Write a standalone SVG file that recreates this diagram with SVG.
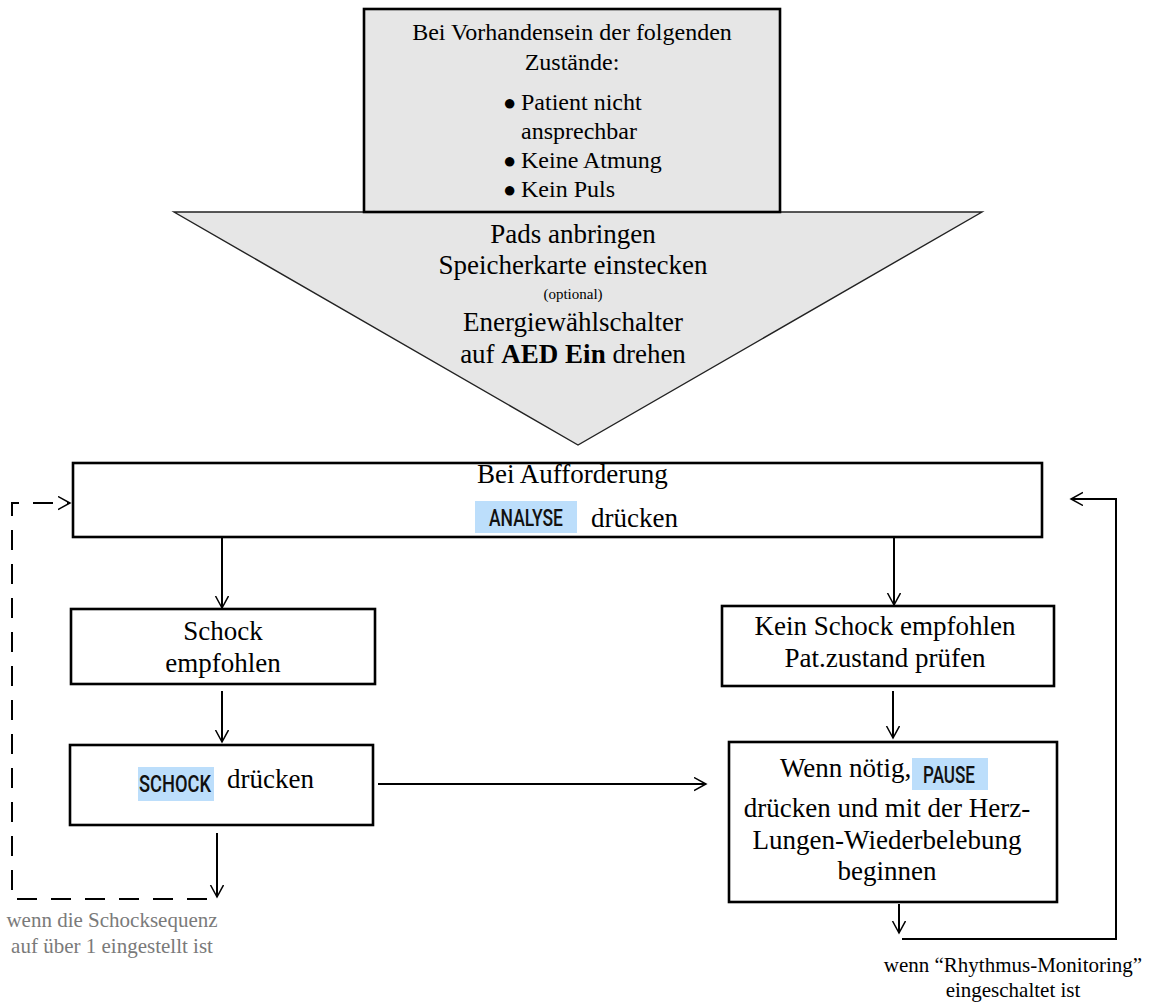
<svg xmlns="http://www.w3.org/2000/svg" width="1149" height="1008" viewBox="0 0 1149 1008">
<defs>
<marker id="arr" markerUnits="userSpaceOnUse" markerWidth="14" markerHeight="16" refX="12" refY="7" orient="auto">
<path d="M0,0.5 L12,7 L0,13.5" fill="none" stroke="#000" stroke-width="1.5"/>
</marker>
<style>
.box{fill:#fff;stroke:#000;stroke-width:2.6}
.gbox{fill:#e6e6e6;stroke:#000;stroke-width:2.6}
.tri{fill:#e6e6e6;stroke:#222;stroke-width:1.4}
.t{font-family:"Liberation Serif","Times New Roman",serif;fill:#000}
.t27{font-size:27px}
.t24{font-size:24px}
.bul{font-size:22px}
.btn{font-family:Roboto,"Liberation Sans",sans-serif;font-weight:500;font-size:23px;fill:#111}
.hl{fill:#bcdefb}
.c{fill:none;stroke:#000;stroke-width:2}
.d{fill:none;stroke:#000;stroke-width:2;stroke-dasharray:20 14}
.note{font-family:"Liberation Serif","Times New Roman",serif;font-size:21px}
</style>
</defs>
<rect width="1149" height="1008" fill="#fff"/>

<g id="start">
<polygon class="tri" points="174,212 982,212 578,445"/>
<rect class="gbox" x="364" y="9" width="416" height="203"/>
<text class="t t24" text-anchor="middle" x="572" y="40">Bei Vorhandensein der folgenden</text>
<text class="t t24" text-anchor="middle" x="572" y="70">Zustände:</text>
<text class="t t24" y="110"><tspan class="bul" x="503">●</tspan><tspan x="521">Patient nicht</tspan></text>
<text class="t t24" x="521" y="139">ansprechbar</text>
<text class="t t24" y="168"><tspan class="bul" x="503">●</tspan><tspan x="521">Keine Atmung</tspan></text>
<text class="t t24" y="197"><tspan class="bul" x="503">●</tspan><tspan x="521">Kein Puls</tspan></text>
<text class="t t27" text-anchor="middle" x="573" y="243">Pads anbringen</text>
<text class="t t27" text-anchor="middle" x="573" y="274">Speicherkarte einstecken</text>
<text class="t" font-size="15" text-anchor="middle" x="573" y="299">(optional)</text>
<text class="t t27" text-anchor="middle" x="573" y="331">Energiewählschalter</text>
<text class="t t27" text-anchor="middle" x="573" y="363">auf <tspan font-weight="bold">AED Ein</tspan> drehen</text>
</g>

<g id="analyse">
<rect class="box" x="73" y="463" width="969" height="74"/>
<text class="t t27" x="477" y="483">Bei Aufforderung</text>
<rect class="hl" x="475" y="501" width="102" height="32"/>
<text class="btn" x="489" y="526" textLength="74" lengthAdjust="spacingAndGlyphs">ANALYSE</text>
<text class="t t27" x="591" y="527">drücken</text>
</g>

<g id="schock-empfohlen">
<rect class="box" x="71" y="609" width="304" height="75"/>
<text class="t t27" text-anchor="middle" x="223" y="640">Schock</text>
<text class="t t27" text-anchor="middle" x="223" y="672">empfohlen</text>
</g>

<g id="schock-druecken">
<rect class="box" x="70" y="745" width="303" height="80"/>
<rect class="hl" x="138" y="767" width="76" height="34"/>
<text class="btn" x="139" y="792" textLength="72" lengthAdjust="spacingAndGlyphs">SCHOCK</text>
<text class="t t27" x="227" y="788">drücken</text>
</g>

<g id="kein-schock">
<rect class="box" x="722" y="606" width="332" height="80"/>
<text class="t t27" text-anchor="middle" x="885" y="635">Kein Schock empfohlen</text>
<text class="t t27" text-anchor="middle" x="885" y="667">Pat.zustand prüfen</text>
</g>

<g id="pause">
<rect class="box" x="729" y="742" width="328" height="160"/>
<text class="t t27" x="780" y="777">Wenn nötig,</text>
<rect class="hl" x="912" y="758" width="76" height="32"/>
<text class="btn" x="923" y="783" textLength="52" lengthAdjust="spacingAndGlyphs">PAUSE</text>
<text class="t t27" text-anchor="middle" x="887" y="817">drücken und mit der Herz-</text>
<text class="t t27" text-anchor="middle" x="887" y="849">Lungen-Wiederbelebung</text>
<text class="t t27" text-anchor="middle" x="887" y="880">beginnen</text>
</g>

<g id="connectors">
<line class="c" x1="222" y1="537" x2="222" y2="608" marker-end="url(#arr)"/>
<line class="c" x1="894" y1="537" x2="894" y2="605" marker-end="url(#arr)"/>
<line class="c" x1="222" y1="691" x2="222" y2="742" marker-end="url(#arr)"/>
<line class="c" x1="893" y1="691" x2="893" y2="738" marker-end="url(#arr)"/>
<line class="c" x1="378" y1="784" x2="706" y2="784" marker-end="url(#arr)"/>
<line class="c" x1="217" y1="833" x2="217" y2="897" marker-end="url(#arr)"/>
<line class="c" x1="899" y1="904" x2="899" y2="933" marker-end="url(#arr)"/>
<polyline class="c" points="902,939 1116,939 1116,499 1071,499" marker-end="url(#arr)"/>
<polyline class="d" points="207,899 12,899 12,503 70,503" marker-end="url(#arr)"/>
</g>

<g id="labels">
<text class="note" fill="#7a7a7a" text-anchor="middle" x="112" y="927">wenn die Schocksequenz</text>
<text class="note" fill="#7a7a7a" text-anchor="middle" x="112" y="953">auf über 1 eingestellt ist</text>
<text class="note" fill="#000" text-anchor="middle" x="1013" y="972">wenn “Rhythmus-Monitoring”</text>
<text class="note" fill="#000" text-anchor="middle" x="1013" y="997">eingeschaltet ist</text>
</g>
</svg>
